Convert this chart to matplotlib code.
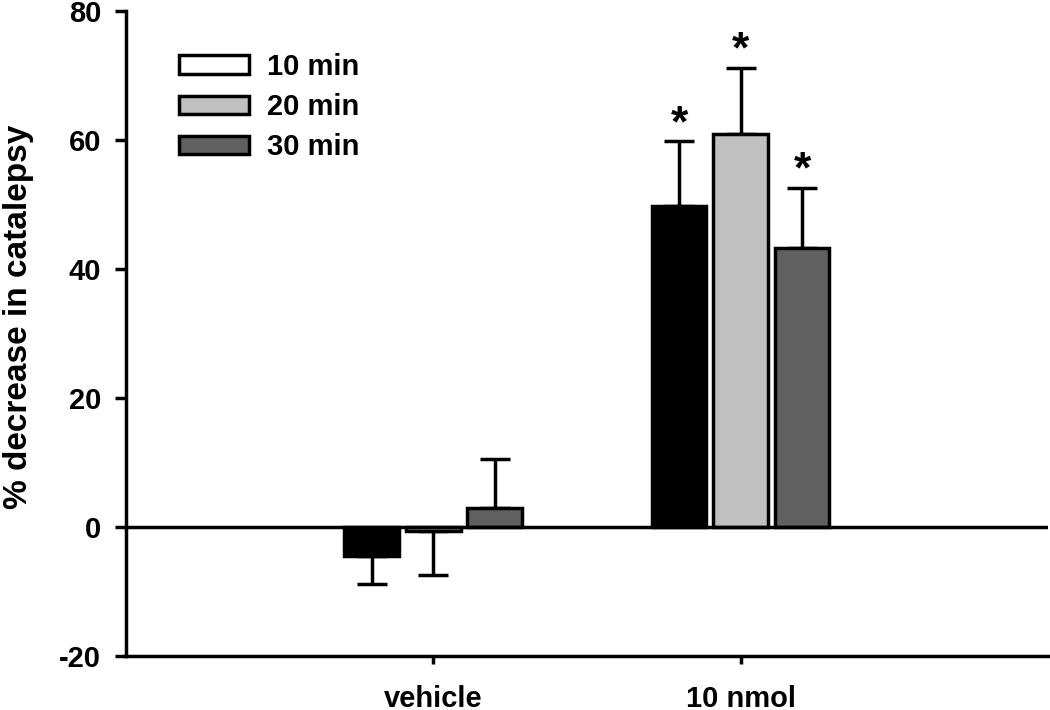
import numpy as np
import matplotlib
matplotlib.use('Agg')
import matplotlib.pyplot as plt

groups = ['vehicle', '10 nmol']
series = ['10 min', '20 min', '30 min']
means = {
    '10 min': [-4.5, 49.8],
    '20 min': [-0.6, 60.9],
    '30 min': [2.9, 43.3],
}
sems = {
    '10 min': [4.3, 10.0],
    '20 min': [6.8, 10.3],
    '30 min': [7.6, 9.3],
}
signif = {
    '10 min': [False, True],
    '20 min': [False, True],
    '30 min': [False, True],
}
bar_colors = ['#000000', '#c0c0c0', '#606060']
legend_colors = ['#ffffff', '#c0c0c0', '#606060']

plt.rcParams['font.family'] = ['Liberation Sans', 'DejaVu Sans']
plt.rcParams['font.weight'] = 'bold'

fig = plt.figure(figsize=(10.5, 7.1), dpi=100)
ax = fig.add_axes([0.12, 0.076, 0.878, 0.9085])

x = np.arange(len(groups))
width = 0.178
offsets = [-0.2, 0.0, 0.2]

for i, s in enumerate(series):
    vals = np.array(means[s])
    errs = np.array(sems[s])
    xs = x + offsets[i]
    ax.bar(xs, vals, width, color=bar_colors[i], edgecolor='black',
           linewidth=2.5, zorder=3)
    # one-sided error bars, pointing away from zero
    lower = np.where(vals < 0, errs, 0)
    upper = np.where(vals >= 0, errs, 0)
    ax.errorbar(xs, vals, yerr=[lower, upper], fmt='none', ecolor='black',
                elinewidth=2.5, capsize=11, capthick=2.5, zorder=2)
    for j in range(len(groups)):
        if signif[s][j]:
            ax.text(xs[j], vals[j] + errs[j] - 0.6, '*', ha='center',
                    va='bottom', fontsize=32, fontweight='bold')

ax.axhline(0, color='black', linewidth=2.5, zorder=4)

handles = [plt.Rectangle((0, 0), 1, 1, facecolor=c, edgecolor='black',
                         linewidth=2.5) for c in legend_colors]
ax.legend(handles, series, loc='upper left', bbox_to_anchor=(0.058, 0.935),
          frameon=False, handlelength=2.4, handleheight=0.6,
          labelspacing=0.42, handletextpad=0.6, borderpad=0,
          borderaxespad=0, prop={'weight': 'bold', 'size': 21})

ax.set_xlim(-1, 2)
ax.set_ylim(-20, 80)
ax.set_yticks([-20, 0, 20, 40, 60, 80])
ax.set_yticklabels(['-20', '0', '20', '40', '60', '80'])
ax.set_xticks(x)
ax.set_xticklabels(groups, fontsize=21, fontweight='bold')
ax.tick_params(axis='y', labelsize=21, width=2.5, length=8, pad=10,
               direction='out')
ax.tick_params(axis='x', width=2.5, length=6, direction='out', pad=15)
for lab in ax.get_yticklabels():
    lab.set_fontweight('bold')
ax.set_ylabel('% decrease in catalepsy', fontsize=24, fontweight='bold')
ax.yaxis.set_label_coords(-0.100, 0.526)

ax.spines['top'].set_visible(False)
ax.spines['right'].set_visible(False)
ax.spines['left'].set_linewidth(2.5)
ax.spines['bottom'].set_linewidth(2.5)

plt.savefig('out.png', dpi=100)
